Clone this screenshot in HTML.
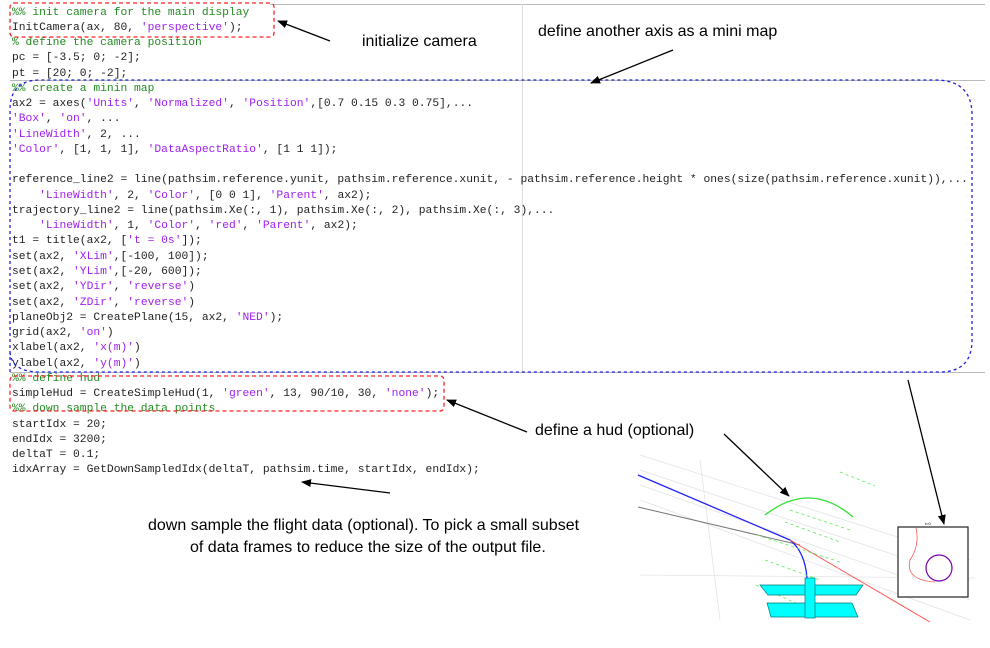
<!DOCTYPE html>
<html><head><meta charset="utf-8"><style>
html,body{margin:0;padding:0;background:#fff;width:990px;height:648px;overflow:hidden;position:relative}
pre{position:absolute;left:12px;top:5.5px;margin:0;font-family:"Liberation Mono",monospace;font-size:11.3px;line-height:15.27px;color:#222}
.c{color:#228B22}.s{color:#A020F0}
.lab{position:absolute;font-family:"Liberation Sans",sans-serif;font-size:16px;color:#000;white-space:nowrap}
svg{position:absolute;left:0;top:0}
</style></head><body>
<svg width="990" height="648">
<line x1="270" y1="4.5" x2="985" y2="4.5" stroke="#bbb"/>
<line x1="522.5" y1="4" x2="522.5" y2="372" stroke="#ddd"/>
<line x1="10" y1="80.5" x2="985" y2="80.5" stroke="#bbb"/>
<line x1="10" y1="372.5" x2="985" y2="372.5" stroke="#bbb"/>
</svg>
<pre><span class="c">%% init camera for the main display</span>
InitCamera(ax, 80, <span class="s">'perspective'</span>);
<span class="c">% define the camera position</span>
pc = [-3.5; 0; -2];
pt = [20; 0; -2];
<span class="c">%% create a minin map</span>
ax2 = axes(<span class="s">'Units'</span>, <span class="s">'Normalized'</span>, <span class="s">'Position'</span>,[0.7 0.15 0.3 0.75],...
<span class="s">'Box'</span>, <span class="s">'on'</span>, ...
<span class="s">'LineWidth'</span>, 2, ...
<span class="s">'Color'</span>, [1, 1, 1], <span class="s">'DataAspectRatio'</span>, [1 1 1]);

reference_line2 = line(pathsim.reference.yunit, pathsim.reference.xunit, - pathsim.reference.height * ones(size(pathsim.reference.xunit)),...
    <span class="s">'LineWidth'</span>, 2, <span class="s">'Color'</span>, [0 0 1], <span class="s">'Parent'</span>, ax2);
trajectory_line2 = line(pathsim.Xe(:, 1), pathsim.Xe(:, 2), pathsim.Xe(:, 3),...
    <span class="s">'LineWidth'</span>, 1, <span class="s">'Color'</span>, <span class="s">'red'</span>, <span class="s">'Parent'</span>, ax2);
t1 = title(ax2, [<span class="s">'t = 0s'</span>]);
set(ax2, <span class="s">'XLim'</span>,[-100, 100]);
set(ax2, <span class="s">'YLim'</span>,[-20, 600]);
set(ax2, <span class="s">'YDir'</span>, <span class="s">'reverse'</span>)
set(ax2, <span class="s">'ZDir'</span>, <span class="s">'reverse'</span>)
planeObj2 = CreatePlane(15, ax2, <span class="s">'NED'</span>);
grid(ax2, <span class="s">'on'</span>)
xlabel(ax2, <span class="s">'x(m)'</span>)
ylabel(ax2, <span class="s">'y(m)'</span>)
<span class="c">%% define hud</span>
simpleHud = CreateSimpleHud(1, <span class="s">'green'</span>, 13, 90/10, 30, <span class="s">'none'</span>);
<span class="c">%% down sample the data points</span>
startIdx = 20;
endIdx = 3200;
deltaT = 0.1;
idxArray = GetDownSampledIdx(deltaT, pathsim.time, startIdx, endIdx);</pre>
<div class="lab" style="left:362px;top:33px">initialize camera</div>
<div class="lab" style="left:538px;top:23px">define another axis as a mini map</div>
<div class="lab" style="left:535px;top:422px">define a hud (optional)</div>
<div class="lab" style="left:148px;top:517px">down sample the flight data (optional). To pick a small subset</div>
<div class="lab" style="left:190px;top:539px">of data frames to reduce the size of the output file.</div>
<svg width="990" height="648">
<defs><marker id="a" markerWidth="10" markerHeight="8" refX="9" refY="4" orient="auto" markerUnits="userSpaceOnUse"><path d="M0,0 L10,4 L0,8 z" fill="#000"/></marker></defs>
<g fill="none" stroke-width="1.3">
<rect x="10" y="3" width="264" height="34" rx="4" stroke="#f22" stroke-dasharray="4,3"/>
<rect x="10" y="376" width="434" height="35" rx="4" stroke="#f22" stroke-dasharray="4,3"/>
<path d="M10,372 V110 Q10,80 40,80 H935 Q972,80 972,115 V340 Q972,372 940,372 H40 Q10,372 10,350" stroke="#22d" stroke-dasharray="3,3"/>
</g>
<g stroke="#000" stroke-width="1.3" marker-end="url(#a)">
<line x1="330" y1="41" x2="278" y2="21"/>
<line x1="673" y1="50" x2="591" y2="83"/>
<line x1="527" y1="432" x2="447" y2="400"/>
<line x1="390" y1="493" x2="302" y2="482"/>
<line x1="724" y1="434" x2="789" y2="496"/>
<line x1="908" y1="380" x2="944" y2="524"/>
</g>
<!-- 3D scene -->
<g stroke="#e4e4e4" stroke-width="0.8">
<line x1="640" y1="455" x2="970" y2="560"/><line x1="640" y1="470" x2="970" y2="580"/>
<line x1="640" y1="485" x2="970" y2="600"/><line x1="640" y1="500" x2="970" y2="620"/>
<line x1="640" y1="575" x2="975" y2="578"/><line x1="700" y1="460" x2="720" y2="620"/>
</g>
<line x1="638" y1="507" x2="800" y2="545" stroke="#777"/>
<path d="M638,475 L790,540 Q805,552 807,578" stroke="#22f" stroke-width="1.3" fill="none"/>
<line x1="790" y1="540" x2="930" y2="622" stroke="#f55" stroke-width="1"/>
<path d="M765,515 Q810,480 853,517" stroke="#3d3" stroke-width="1.3" fill="none"/>
<g stroke="#5e5" stroke-width="0.8" stroke-dasharray="3,3">
<line x1="840" y1="472" x2="875" y2="486"/><line x1="790" y1="510" x2="850" y2="530"/>
<line x1="785" y1="522" x2="840" y2="542"/><line x1="757" y1="535" x2="840" y2="562"/>
<line x1="765" y1="560" x2="820" y2="580"/><line x1="756" y1="585" x2="800" y2="605"/>
</g>
<g fill="#0ff" stroke="#077" stroke-width="0.7">
<polygon points="760,585 863,585 856,595 768,595"/>
<polygon points="767,603 852,603 858,617 771,617"/>
<rect x="805" y="578" width="10" height="40"/>
</g>
<rect x="898" y="527" width="70" height="70" fill="#fff" stroke="#222" stroke-width="1.2"/>
<circle cx="939" cy="568" r="13" fill="none" stroke="#70a" stroke-width="1.2"/>
<path d="M916,528 Q920,545 910,560 Q905,580 935,582" stroke="#f55" fill="none" stroke-width="0.8"/>
<text x="925" y="525" font-size="4" font-family="Liberation Sans">t=0</text>
</svg>
</body></html>
